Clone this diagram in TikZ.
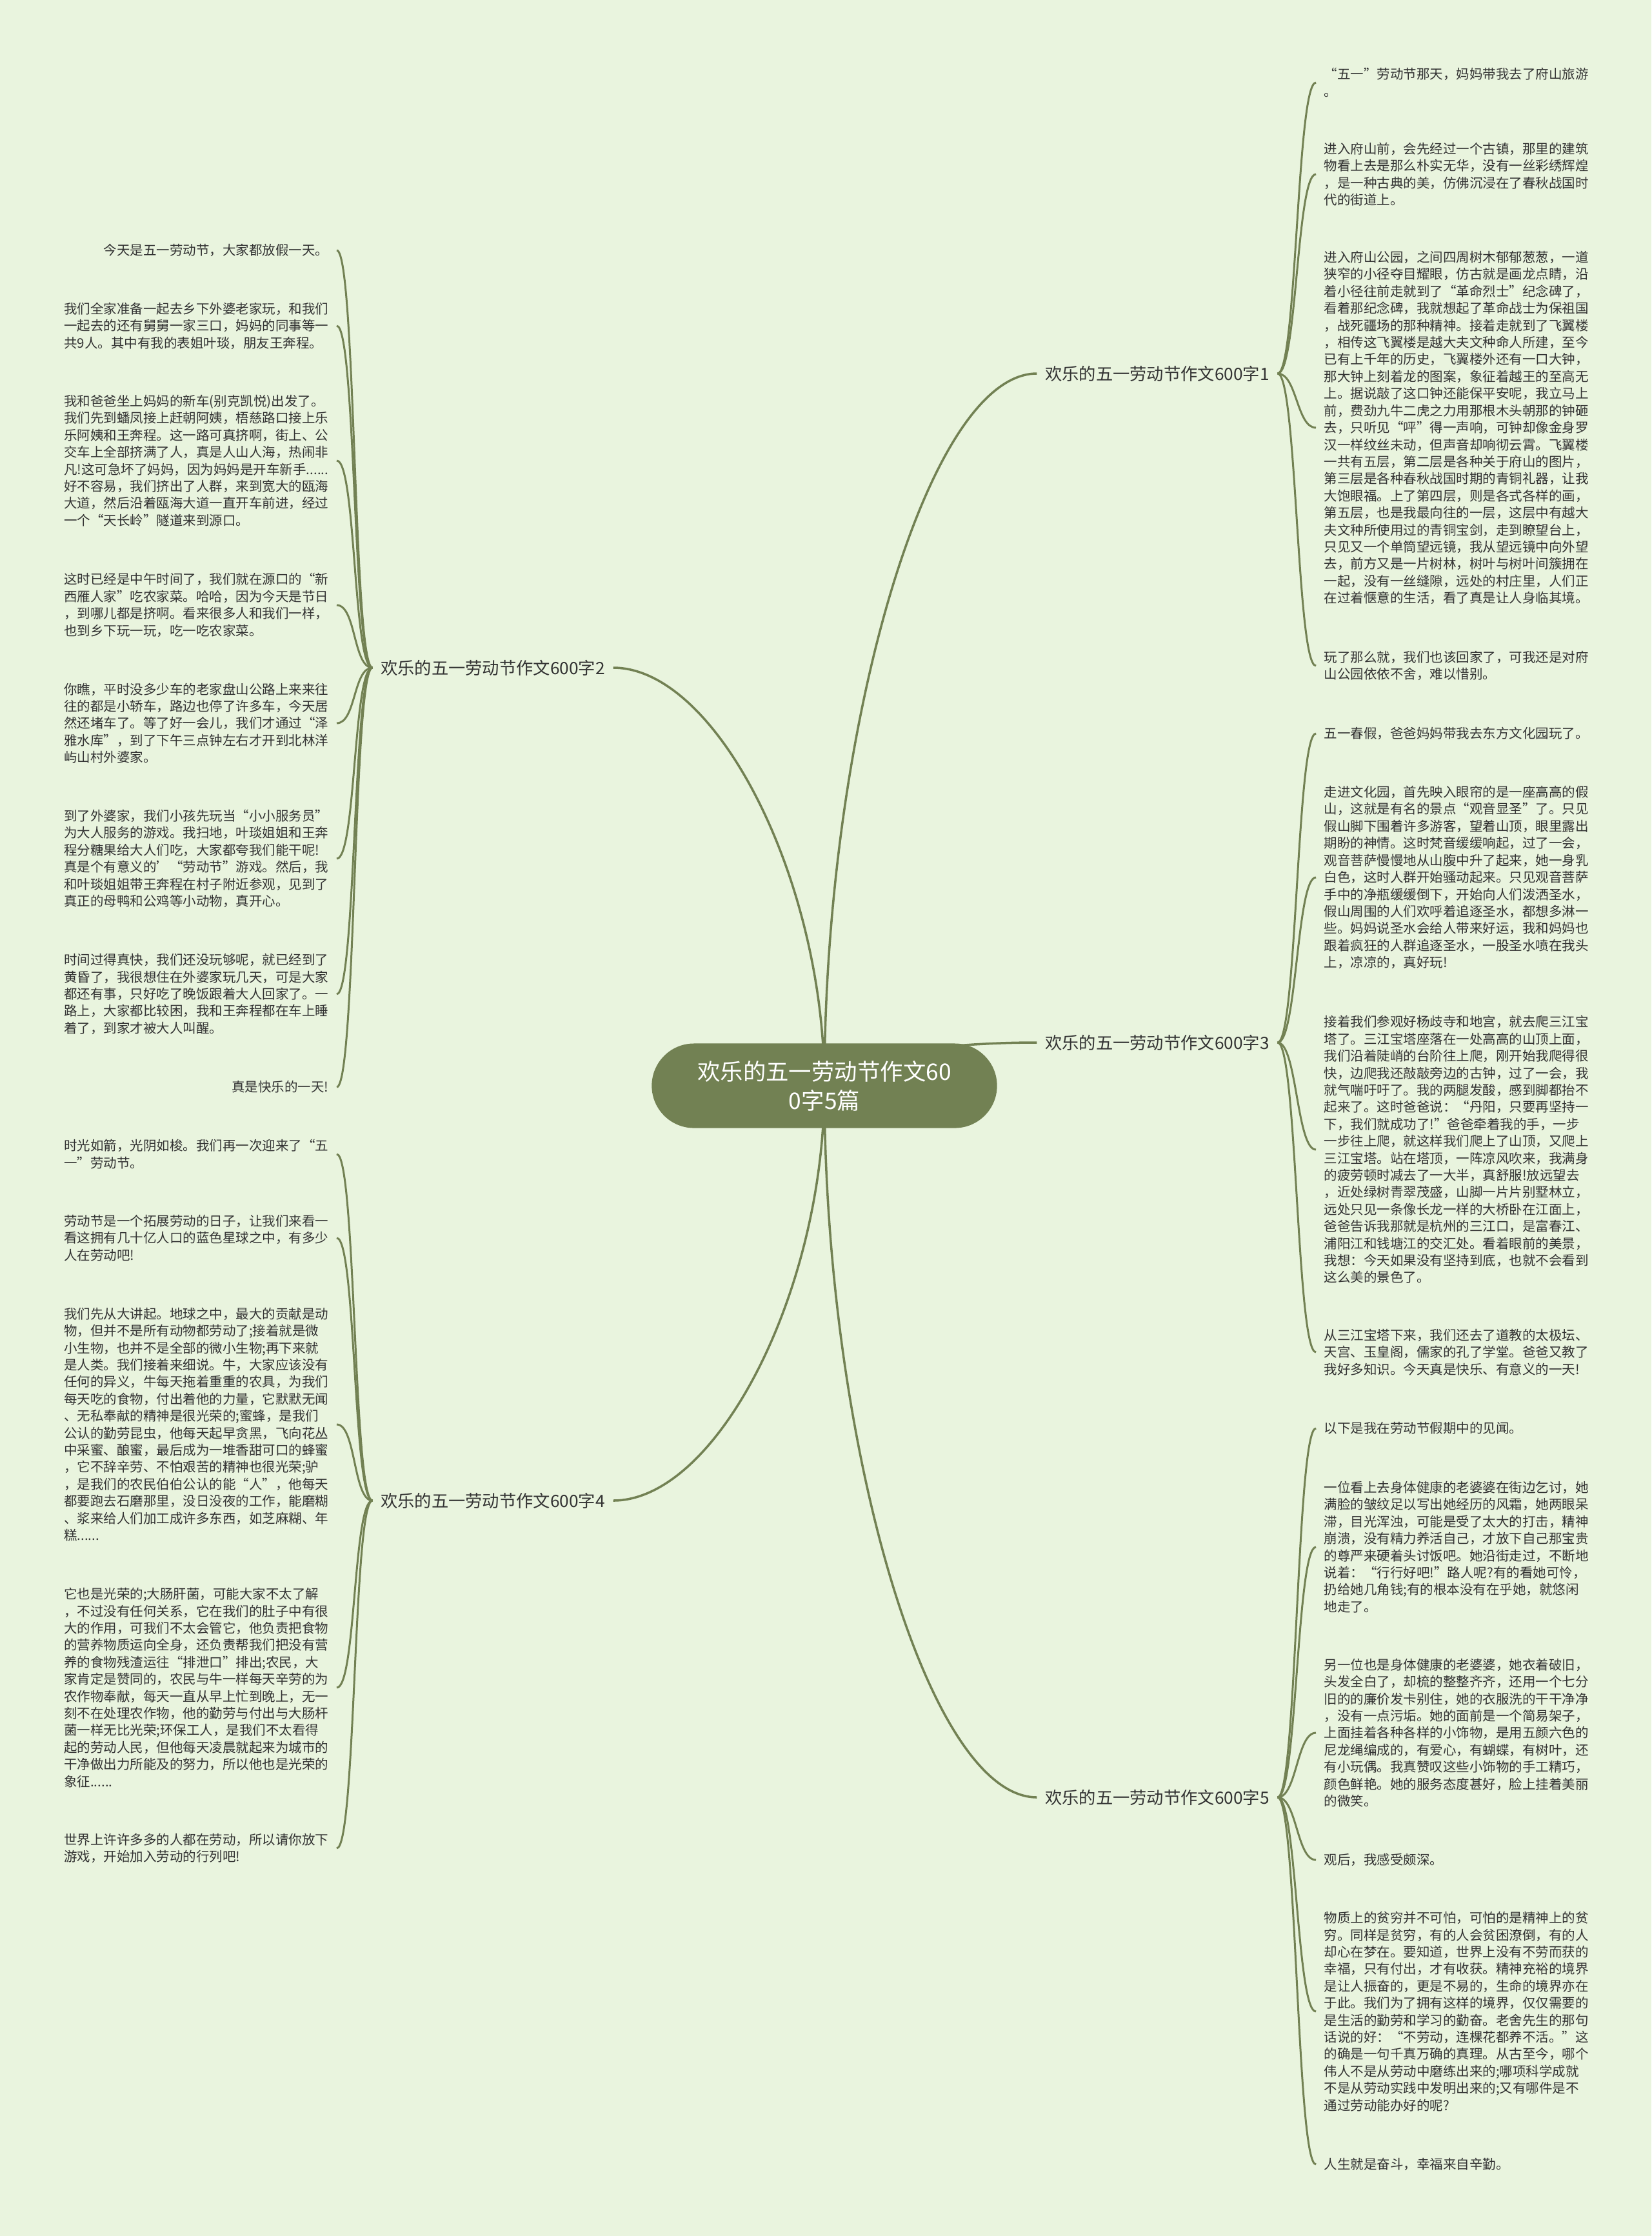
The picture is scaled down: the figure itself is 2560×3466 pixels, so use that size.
\documentclass[tikz,border=0pt]{standalone}
\usepackage{fontspec}
\setmainfont{Noto Sans CJK SC}
\usepackage{tikz}
\usetikzlibrary{backgrounds}
\definecolor{paper}{RGB}{233,244,222}
\definecolor{olive}{RGB}{114,129,83}
\definecolor{ink}{RGB}{51,51,51}
\tikzstyle{root}=[fill=olive, text=white, rounded corners=0.655cm, minimum width=5.35cm, minimum height=1.31cm, inner sep=0pt, align=center, font=\fontsize{10.07pt}{12.8pt}\selectfont]
\tikzstyle{branch}=[text=ink, inner xsep=0.12cm, inner ysep=2pt, font=\fontsize{7.48pt}{9pt}\selectfont]
\tikzstyle{leaf}=[text=ink, inner xsep=0.12cm, inner ysep=1pt, align=left, font=\fontsize{5.83pt}{7.51pt}\selectfont]
\tikzstyle{leafR}=[leaf, anchor=west]
\tikzstyle{leafL}=[leaf, anchor=east]
\tikzstyle{limb}=[draw=olive, line width=1pt]
\tikzstyle{twig}=[draw=olive, line width=0.85pt]

\begin{document}
\begin{tikzpicture}[x=0.01cm, y=-0.01cm]
\node[root] (root) at (1278,1683) {欢乐的五一劳动节作文60\\0字5篇};

\node[branch] (b1) at (1794,579) {欢乐的五一劳动节作文600字1};
\node[branch] (b2) at (764,1035) {欢乐的五一劳动节作文600字2};
\node[branch] (b3) at (1794,1616) {欢乐的五一劳动节作文600字3};
\node[branch] (b4) at (764,2326) {欢乐的五一劳动节作文600字4};
\node[branch] (b5) at (1794,2786) {欢乐的五一劳动节作文600字5};

\node[leafR] (t1a) at (2040,128) {“五一”劳动节那天，妈妈带我去了府山旅游\\。};
\node[leafR] (t1b) at (2040,270) {进入府山前，会先经过一个古镇，那里的建筑\\物看上去是那么朴实无华，没有一丝彩绣辉煌\\，是一种古典的美，仿佛沉浸在了春秋战国时\\代的街道上。};
\node[leafR] (t1c) at (2040,663) {进入府山公园，之间四周树木郁郁葱葱，一道\\狭窄的小径夺目耀眼，仿古就是画龙点睛，沿\\着小径往前走就到了“革命烈士”纪念碑了，\\看着那纪念碑，我就想起了革命战士为保祖国\\，战死疆场的那种精神。接着走就到了飞翼楼\\，相传这飞翼楼是越大夫文种命人所建，至今\\已有上千年的历史，飞翼楼外还有一口大钟，\\那大钟上刻着龙的图案，象征着越王的至高无\\上。据说敲了这口钟还能保平安呢，我立马上\\前，费劲九牛二虎之力用那根木头朝那的钟砸\\去，只听见“呯”得一声响，可钟却像金身罗\\汉一样纹丝未动，但声音却响彻云霄。飞翼楼\\一共有五层，第二层是各种关于府山的图片，\\第三层是各种春秋战国时期的青铜礼器，让我\\大饱眼福。上了第四层，则是各式各样的画，\\第五层，也是我最向往的一层，这层中有越大\\夫文种所使用过的青铜宝剑，走到瞭望台上，\\只见又一个单筒望远镜，我从望远镜中向外望\\去，前方又是一片树林，树叶与树叶间簇拥在\\一起，没有一丝缝隙，远处的村庄里，人们正\\在过着惬意的生活，看了真是让人身临其境。};
\node[leafR] (t1d) at (2040,1032) {玩了那么就，我们也该回家了，可我还是对府\\山公园依依不舍，难以惜别。};

\node[leafR] (t3a) at (2040,1137) {五一春假，爸爸妈妈带我去东方文化园玩了。};
\node[leafR] (t3b) at (2040,1360) {走进文化园，首先映入眼帘的是一座高高的假\\山，这就是有名的景点“观音显圣”了。只见\\假山脚下围着许多游客，望着山顶，眼里露出\\期盼的神情。这时梵音缓缓响起，过了一会，\\观音菩萨慢慢地从山腹中升了起来，她一身乳\\白色，这时人群开始骚动起来。只见观音菩萨\\手中的净瓶缓缓倒下，开始向人们泼洒圣水，\\假山周围的人们欢呼着追逐圣水，都想多淋一\\些。妈妈说圣水会给人带来好运，我和妈妈也\\跟着疯狂的人群追逐圣水，一股圣水喷在我头\\上，凉凉的，真好玩!};
\node[leafR] (t3c) at (2040,1782) {接着我们参观好杨歧寺和地宫，就去爬三江宝\\塔了。三江宝塔座落在一处高高的山顶上面，\\我们沿着陡峭的台阶往上爬，刚开始我爬得很\\快，边爬我还敲敲旁边的古钟，过了一会，我\\就气喘吁吁了。我的两腿发酸，感到脚都抬不\\起来了。这时爸爸说：“丹阳，只要再坚持一\\下，我们就成功了!”爸爸牵着我的手，一步\\一步往上爬，就这样我们爬上了山顶，又爬上\\三江宝塔。站在塔顶，一阵凉风吹来，我满身\\的疲劳顿时减去了一大半，真舒服!放远望去\\，近处绿树青翠茂盛，山脚一片片别墅林立，\\远处只见一条像长龙一样的大桥卧在江面上，\\爸爸告诉我那就是杭州的三江口，是富春江、\\浦阳江和钱塘江的交汇处。看着眼前的美景，\\我想：今天如果没有坚持到底，也就不会看到\\这么美的景色了。};
\node[leafR] (t3d) at (2040,2096) {从三江宝塔下来，我们还去了道教的太极坛、\\天宫、玉皇阁，儒家的孔了学堂。爸爸又教了\\我好多知识。今天真是快乐、有意义的一天!};

\node[leafR] (t5a) at (2040,2214) {以下是我在劳动节假期中的见闻。};
\node[leafR] (t5b) at (2040,2398) {一位看上去身体健康的老婆婆在街边乞讨，她\\满脸的皱纹足以写出她经历的风霜，她两眼呆\\滞，目光浑浊，可能是受了太大的打击，精神\\崩溃，没有精力养活自己，才放下自己那宝贵\\的尊严来硬着头讨饭吧。她沿街走过，不断地\\说着：“行行好吧!”路人呢?有的看她可怜，\\扔给她几角钱;有的根本没有在乎她，就悠闲\\地走了。};
\node[leafR] (t5c) at (2040,2686) {另一位也是身体健康的老婆婆，她衣着破旧，\\头发全白了，却梳的整整齐齐，还用一个七分\\旧的的廉价发卡别住，她的衣服洗的干干净净\\，没有一点污垢。她的面前是一个简易架子，\\上面挂着各种各样的小饰物，是用五颜六色的\\尼龙绳编成的，有爱心，有蝴蝶，有树叶，还\\有小玩偶。我真赞叹这些小饰物的手工精巧，\\颜色鲜艳。她的服务态度甚好，脸上挂着美丽\\的微笑。};
\node[leafR] (t5d) at (2040,2883) {观后，我感受颇深。};
\node[leafR] (t5e) at (2040,3118) {物质上的贫穷并不可怕，可怕的是精神上的贫\\穷。同样是贫穷，有的人会贫困潦倒，有的人\\却心在梦在。要知道，世界上没有不劳而获的\\幸福，只有付出，才有收获。精神充裕的境界\\是让人振奋的，更是不易的，生命的境界亦在\\于此。我们为了拥有这样的境界，仅仅需要的\\是生活的勤劳和学习的勤奋。老舍先生的那句\\话说的好：“不劳动，连棵花都养不活。”这\\的确是一句千真万确的真理。从古至今，哪个\\伟人不是从劳动中磨练出来的;哪项科学成就\\不是从劳动实践中发明出来的;又有哪件是不\\通过劳动能办好的呢?};
\node[leafR] (t5f) at (2040,3355) {人生就是奋斗，幸福来自辛勤。};

\node[leafL] (t2a) at (522,388) {今天是五一劳动节，大家都放假一天。};
\node[leafL] (t2b) at (522,505) {我们全家准备一起去乡下外婆老家玩，和我们\\一起去的还有舅舅一家三口，妈妈的同事等一\\共9人。其中有我的表姐叶琰，朋友王奔程。};
\node[leafL] (t2c) at (522,714) {我和爸爸坐上妈妈的新车(别克凯悦)出发了。\\我们先到蟠凤接上赶朝阿姨，梧慈路口接上乐\\乐阿姨和王奔程。这一路可真挤啊，街上、公\\交车上全部挤满了人，真是人山人海，热闹非\\凡!这可急坏了妈妈，因为妈妈是开车新手......\\好不容易，我们挤出了人群，来到宽大的瓯海\\大道，然后沿着瓯海大道一直开车前进，经过\\一个“天长岭”隧道来到源口。};
\node[leafL] (t2d) at (522,938) {这时已经是中午时间了，我们就在源口的“新\\西雁人家”吃农家菜。哈哈，因为今天是节日\\，到哪儿都是挤啊。看来很多人和我们一样，\\也到乡下玩一玩，吃一吃农家菜。};
\node[leafL] (t2e) at (522,1121) {你瞧，平时没多少车的老家盘山公路上来来往\\往的都是小轿车，路边也停了许多车，今天居\\然还堵车了。等了好一会儿，我们才通过“泽\\雅水库”，到了下午三点钟左右才开到北林洋\\屿山村外婆家。};
\node[leafL] (t2f) at (522,1331) {到了外婆家，我们小孩先玩当“小小服务员”\\为大人服务的游戏。我扫地，叶琰姐姐和王奔\\程分糖果给大人们吃，大家都夸我们能干呢!\\真是个有意义的'“劳动节”游戏。然后，我\\和叶琰姐姐带王奔程在村子附近参观，见到了\\真正的母鸭和公鸡等小动物，真开心。};
\node[leafL] (t2g) at (522,1541) {时间过得真快，我们还没玩够呢，就已经到了\\黄昏了，我很想住在外婆家玩几天，可是大家\\都还有事，只好吃了晚饭跟着大人回家了。一\\路上，大家都比较困，我和王奔程都在车上睡\\着了，到家才被大人叫醒。};
\node[leafL] (t2h) at (522,1685) {真是快乐的一天!};

\node[leafL] (t4a) at (522,1789) {时光如箭，光阴如梭。我们再一次迎来了“五\\一”劳动节。};
\node[leafL] (t4b) at (522,1919) {劳动节是一个拓展劳动的日子，让我们来看一\\看这拥有几十亿人口的蓝色星球之中，有多少\\人在劳动吧!};
\node[leafL] (t4c) at (522,2208) {我们先从大讲起。地球之中，最大的贡献是动\\物，但并不是所有动物都劳动了;接着就是微\\小生物，也并不是全部的微小生物;再下来就\\是人类。我们接着来细说。牛，大家应该没有\\任何的异义，牛每天拖着重重的农具，为我们\\每天吃的食物，付出着他的力量，它默默无闻\\、无私奉献的精神是很光荣的;蜜蜂，是我们\\公认的勤劳昆虫，他每天起早贪黑，飞向花丛\\中采蜜、酿蜜，最后成为一堆香甜可口的蜂蜜\\，它不辞辛劳、不怕艰苦的精神也很光荣;驴\\，是我们的农民伯伯公认的能“人”，他每天\\都要跑去石磨那里，没日没夜的工作，能磨糊\\、浆来给人们加工成许多东西，如芝麻糊、年\\糕......};
\node[leafL] (t4d) at (522,2616) {它也是光荣的;大肠肝菌，可能大家不太了解\\，不过没有任何关系，它在我们的肚子中有很\\大的作用，可我们不太会管它，他负责把食物\\的营养物质运向全身，还负责帮我们把没有营\\养的食物残渣运往“排泄口”排出;农民，大\\家肯定是赞同的，农民与牛一样每天辛劳的为\\农作物奉献，每天一直从早上忙到晚上，无一\\刻不在处理农作物，他的勤劳与付出与大肠杆\\菌一样无比光荣;环保工人，是我们不太看得\\起的劳动人民，但他每天凌晨就起来为城市的\\干净做出力所能及的努力，所以他也是光荣的\\象征......};
\node[leafL] (t4e) at (522,2865) {世界上许许多多的人都在劳动，所以请你放下\\游戏，开始加入劳动的行列吧!};

\begin{scope}[on background layer]
\fill[paper] (0,0) rectangle (2560,3466);
\draw[limb] (root.center) .. controls +(0,-550) and +(-170,0) .. (b1.west);
\draw[limb] (root.center) .. controls +(0,-320) and +(160,0) .. (b2.east);
\draw[limb] (root.center) .. controls +(0,-40) and +(-170,0) .. (b3.west);
\draw[limb] (root.center) .. controls +(0,320) and +(160,0) .. (b4.east);
\draw[limb] (root.center) .. controls +(0,550) and +(-170,0) .. (b5.west);
\foreach \n in {a,b,c,d}
	\draw[twig] (b1.east) .. controls +(30,0) and +(-30,0) .. (t1\n.west);
\foreach \n in {a,b,c,d,e,f,g,h}
	\draw[twig] (b2.west) .. controls +(-30,0) and +(30,0) .. (t2\n.east);
\foreach \n in {a,b,c,d}
	\draw[twig] (b3.east) .. controls +(30,0) and +(-30,0) .. (t3\n.west);
\foreach \n in {a,b,c,d,e}
	\draw[twig] (b4.west) .. controls +(-30,0) and +(30,0) .. (t4\n.east);
\foreach \n in {a,b,c,d,e,f}
	\draw[twig] (b5.east) .. controls +(30,0) and +(-30,0) .. (t5\n.west);
\end{scope}
\end{tikzpicture}
\end{document}
